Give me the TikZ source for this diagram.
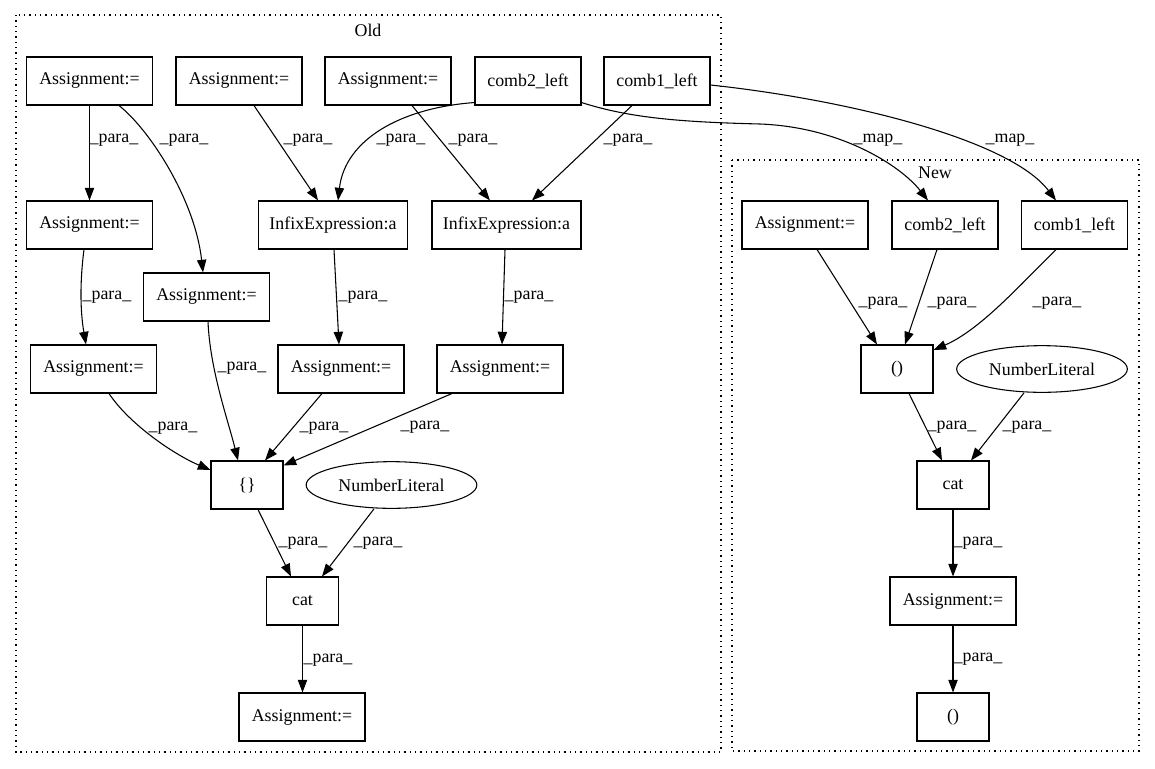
\documentclass[tikz,border=0pt]{standalone}
\usepackage{fontspec}
\setmainfont{Liberation Serif}
\usetikzlibrary{arrows.meta,shapes.geometric,calc}
\tikzset{
  box/.style={draw, line width=0.8pt, rectangle, minimum height=36pt, inner sep=0pt},
  asg/.style={box, minimum width=94.5pt},
  comb/.style={box, minimum width=79.5pt},
  infix/.style={box, minimum width=111.75pt},
  small/.style={box, minimum width=54pt},
  lit/.style={draw, line width=0.8pt, ellipse, minimum width=128pt, minimum height=35pt, inner sep=0pt},
  edge/.style={line width=0.8pt, -{Triangle[length=9.5pt,width=7pt]}},
  lbl/.style={inner sep=0pt},
  cluster/.style={line width=0.8pt, dash pattern=on 1pt off 3pt},
}
\begin{document}
\begin{tikzpicture}[x=0.75pt,y=-0.75pt,font=\fontsize{13.4pt}{16pt}\selectfont]
\useasboundingbox (0,0) rectangle (1155,768);
% clusters
\draw[cluster] (16,15) rectangle (721,752);
\draw[cluster] (732,160) rectangle (1139,751);
\node[lbl] (old) at (368,30) {Old};
\node[lbl] (new) at (935,173) {New};
% Old nodes
\node[asg] (A1) at (89.5,81) {Assignment:=};
\node[asg] (A2) at (239,81) {Assignment:=};
\node[asg] (A3) at (388,81) {Assignment:=};
\node[comb] (C2o) at (528,81) {comb2\_left};
\node[comb] (C1o) at (657,81) {comb1\_left};
\node[asg] (A4) at (89.5,225) {Assignment:=};
\node[infix] (I1) at (333,225) {InfixExpression:a};
\node[infix] (I2) at (506.5,225) {InfixExpression:a};
\node[asg] (A5) at (206.5,297) {Assignment:=};
\node[asg] (A6) at (93.5,369) {Assignment:=};
\node[asg] (A7) at (341,369) {Assignment:=};
\node[asg] (A8) at (500,369) {Assignment:=};
\node[small] (BR) at (247,485) {\{\}};
\node[lit] (NL1) at (391.5,485) {NumberLiteral};
\node[small] (CAT1) at (302.5,601) {cat};
\node[asg] (A9) at (302,717) {Assignment:=};
% New nodes
\node[asg] (AN) at (805,225) {Assignment:=};
\node[comb] (C2n) at (945,225) {comb2\_left};
\node[comb] (C1n) at (1074.5,225) {comb1\_left};
\node[small] (P1) at (897,369) {()};
\node[lit] (NL2) at (1042,369) {NumberLiteral};
\node[small] (CAT2) at (953,485) {cat};
\node[asg] (AN2) at (953,601) {Assignment:=};
\node[small] (P2) at (953,717) {()};
% Old edges
\draw[edge] (A1.south) -- (A4.north);
\node[lbl] (l1) at (114,140) {\_para\_};
\draw[edge] ($(A1.south)+(29.5,0)$) .. controls (150,130) and (195,200) .. ($(A5.north)+(-3.5,0)$);
\node[lbl] (l2) at (184,140) {\_para\_};
\draw[edge] ($(A2.south)+(15,0)$) -- ($(I1.north)+(-15,0)$);
\node[lbl] (l3) at (308,140) {\_para\_};
\draw[edge] ($(A3.south)+(24,0)$) -- ($(I2.north)+(-16.5,0)$);
\node[lbl] (l4) at (473,140) {\_para\_};
\draw[edge] ($(C2o.south west)+(0,-3)$) .. controls (400,108) and (345,140) .. ($(I1.north)+(5,0)$);
\node[lbl] (l5) at (401,140) {\_para\_};
\draw[edge] ($(C1o.south)+(-25,0)$) -- ($(I2.north)+(25.5,0)$);
\node[lbl] (l6) at (628,140) {\_para\_};
\draw[edge] ($(C2o.south east)+(0,-3)$) .. controls (630,118) and (680,122) .. (760,124) .. controls (840,127) and (900,165) .. ($(C2n.north)+(-17,0)$);
\node[lbl] (l7) at (878,140) {\_map\_};
\draw[edge] ($(C1o.east)+(0,4)$) .. controls (850,100) and (1010,140) .. ($(C1n.north)+(-18.5,0)$);
\node[lbl] (l8) at (1010,140) {\_map\_};
\draw[edge] ($(I1.south)+(1,0)$) -- ($(A7.north)+(-2,0)$);
\node[lbl] (l9) at (363,297) {\_para\_};
\draw[edge] ($(I2.south)+(-1.5,0)$) -- ($(A8.north)+(2,0)$);
\node[lbl] (l10) at (529,297) {\_para\_};
\draw[edge] ($(A4.south)+(-5.5,0)$) .. controls (80,280) and (80,310) .. ($(A6.north)+(-7.5,0)$);
\node[lbl] (l11) at (107,297) {\_para\_};
\draw[edge] ($(A5.south)+(1.5,0)$) .. controls (210,370) and (228,420) .. ($(BR.north)+(-9,0)$);
\node[lbl] (l12) at (242,368) {\_para\_};
\draw[edge] ($(A6.south)+(15.5,0)$) .. controls (130,425) and (175,455) .. ($(BR.west)+(0,-15)$);
\node[lbl] (l13) at (173,428) {\_para\_};
\draw[edge] ($(A7.south)+(-19,0)$) -- ($(BR.north)+(18,0)$);
\node[lbl] (l14) at (324,428) {\_para\_};
\draw[edge] ($(A8.south)+(-48,0)$) -- ($(BR.north east)+(0,5)$);
\node[lbl] (l15) at (425,427) {\_para\_};
\draw[edge] ($(BR.south)+(11,0)$) -- ($(CAT1.north)+(-11.5,0)$);
\node[lbl] (l16) at (303,543) {\_para\_};
\draw[edge] ($(NL1.south)+(-17.5,0)$) -- ($(CAT1.north)+(19.5,0)$);
\node[lbl] (l17) at (378,543) {\_para\_};
\draw[edge] (CAT1.south) -- (CAT1.south |- A9.north);
\node[lbl] (l18) at (328,660) {\_para\_};
% New edges
\draw[edge] ($(AN.south)+(12,0)$) -- ($(P1.north)+(-20,0)$);
\node[lbl] (l19) at (883,303) {\_para\_};
\draw[edge] ($(C2n.south)+(-8,0)$) -- ($(P1.north)+(8,0)$);
\node[lbl] (l20) at (952,303) {\_para\_};
\draw[edge] ($(C1n.south)+(-18.5,0)$) .. controls (1020,285) and (980,330) .. ($(P1.east)+(0,-19)$);
\node[lbl] (l21) at (1057,303) {\_para\_};
\draw[edge] ($(P1.south)+(12,0)$) -- ($(CAT2.north)+(-11,0)$);
\node[lbl] (l22) at (952,427) {\_para\_};
\draw[edge] ($(NL2.south)+(-18,0)$) -- ($(CAT2.north)+(18,0)$);
\node[lbl] (l23) at (1027,427) {\_para\_};
\draw[edge] (CAT2.south) -- (AN2.north);
\node[lbl] (l24) at (978,543) {\_para\_};
\draw[edge] (AN2.south) -- (P2.north);
\node[lbl] (l25) at (978,659) {\_para\_};
\end{tikzpicture}
\end{document}
